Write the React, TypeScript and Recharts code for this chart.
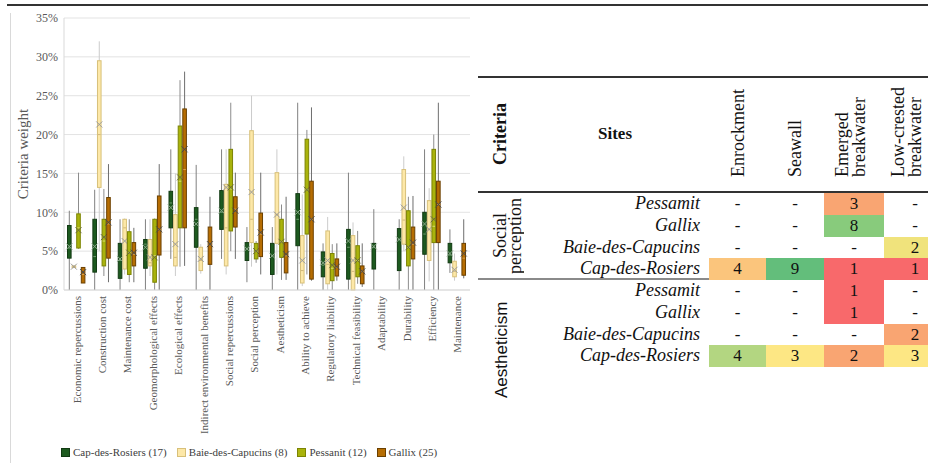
import React from 'react';
import { ComposedChart, Bar, XAxis, YAxis, CartesianGrid, Legend, Label } from 'recharts';

// box values per criterion: [min, q1, median, q3, max, mean] in %
type Box = [number, number, number, number, number, number] | null;

const categories = [
  'Economic repercussions', 'Construction cost', 'Maintenance cost', 'Geomorphological effects',
  'Ecological effects', 'Indirect environmental benefits', 'Social repercussions', 'Social perception',
  'Aestheticism', 'Ability to achieve', 'Regulatory liability', 'Technical feasibility',
  'Adaptability', 'Durability', 'Efficiency', 'Maintenance',
];

const capDesRosiers: Box[] = [
  [0, 4.1, 5.4, 8.3, 10.2, 5.6], [0, 2.3, 4.3, 9.1, 12.9, 5.6], [0, 1.5, 3.8, 6.0, 9.1, 4.0],
  [0, 2.8, 5.9, 6.5, 9.1, 5.5], [4, 8.0, 11.2, 12.7, 18.1, 10.6], [0, 5.5, 9.1, 10.6, 16.1, 8.5],
  [4, 7.8, 10.0, 12.8, 18.1, 10.2], [1, 3.8, 5.3, 6.1, 8.1, 5.3], [0, 2.0, 4.4, 6.0, 8.1, 4.4],
  [0, 5.7, 9.1, 12.4, 24.1, 10.0], [0, 1.7, 3.2, 4.9, 6.0, 3.5], [0, 1.4, 5.5, 7.8, 15.1, 6.3],
  [0, 2.7, 5.5, 6.0, 10.4, 5.6], [0, 2.5, 6.5, 7.9, 9.1, 6.5], [0, 4.6, 7.2, 10.0, 18.1, 8.5],
  [2.2, 3.5, 4.5, 6.0, 7.8, 4.7],
];

const baieDesCapucins: Box[] = [
  [2.8, 2.9, 3.0, 3.1, 3.2, 3.0], [5, 13.2, 20, 29.5, 32, 21.3], [2, 2.7, 8.0, 9.1, 9.2, 6.3],
  [1.8, 3.1, 3.5, 6.5, 9.1, 4.2], [1.8, 3.1, 4.2, 9.7, 15.0, 5.9], [2.1, 2.5, 3.8, 5.5, 5.9, 4.0],
  [2, 3.1, 8.0, 13.6, 18.1, 13.2], [3, 6.1, 9.1, 20.5, 25.0, 12.6], [2, 6.0, 9.7, 15.1, 18.1, 9.7],
  [0.5, 0.9, 2.5, 7.0, 12.3, 3.8], [0, 0.8, 3.3, 7.6, 9.4, 3.8], [0, 0, 2.4, 7.0, 8.7, 3.8],
  null, [5, 5.9, 9.0, 15.5, 17.2, 10.6], [1.1, 3.8, 7.8, 11.5, 13.1, 7.8],
  [1.2, 1.7, 2.4, 3.7, 4.7, 2.6],
];

const pessamit: Box[] = [
  [5.3, 5.4, 8.0, 9.8, 15.1, 7.7], [1.8, 3.1, 6.3, 9.1, 13.0, 6.8], [1.0, 2.0, 4.8, 7.5, 9.1, 4.8],
  [0, 1.0, 4.4, 9.1, 9.2, 4.2], [3, 8.0, 14.0, 21.1, 27.0, 14.5], null,
  [5, 7.6, 13.0, 18.1, 24.1, 13.2], [3.5, 4.0, 5.0, 6.0, 6.3, 5.0], [1.3, 4.2, 6.2, 9.1, 11.0, 6.2],
  [2, 7.2, 12.9, 19.4, 20.6, 12.9], [0, 1.2, 2.8, 4.7, 5.9, 3.2], [0.8, 1.7, 3.8, 5.7, 7.6, 3.8],
  null, [0, 3.1, 5.5, 10.2, 12.0, 5.5], [0, 6.1, 8.2, 18.1, 20.0, 9.1],
  null,
];

const gallix: Box[] = [
  [0.9, 0.9, 2.0, 2.9, 2.9, 2.3], [1.0, 4.1, 8.5, 11.9, 16.2, 8.7], [1.0, 3.1, 4.6, 6.1, 8.0, 4.8],
  [0, 4.5, 7.8, 12.1, 16.2, 7.8], [3.1, 8.0, 15.5, 23.3, 28.1, 18.1], [0, 3.3, 5.9, 8.1, 12.0, 5.9],
  [4.0, 8.1, 10.4, 12.0, 15.1, 10.2], [2.0, 4.3, 7.2, 9.9, 15.1, 7.4], [1.3, 2.2, 4.4, 6.1, 12.0, 4.6],
  [1.2, 1.4, 9.1, 14.0, 23.5, 9.1], [1.2, 1.8, 2.9, 4.0, 6.0, 3.0], [0.4, 0.8, 2.4, 3.1, 6.0, 2.4],
  null, [0, 4.0, 5.9, 8.1, 12.1, 6.1], [0, 6.1, 11.0, 14.0, 24.1, 11.0],
  [1.5, 1.9, 4.1, 6.0, 9.1, 4.7],
];

const yTicks = [0, 5, 10, 15, 20, 25, 30, 35];

// table on the right
const sites = ['Pessamit', 'Gallix', 'Baie-des-Capucins', 'Cap-des-Rosiers'];
const structures = [['Enrockment'], ['Seawall'], ['Emerged', 'breakwater'], ['Low-crested', 'breakwater']];
const socialPerception = [['-', '-', '3', '-'], ['-', '-', '8', '-'], ['-', '-', '-', '2'], ['4', '9', '1', '1']];
const aestheticism = [['-', '-', '1', '-'], ['-', '-', '1', '-'], ['-', '-', '-', '2'], ['4', '3', '2', '3']];
const socialColors = [
  [null, null, '#f9a572', null], [null, null, '#88cb7c', null],
  [null, null, null, '#f0e37c'], ['#fbc57c', '#63be7b', '#f8696b', '#f8696b'],
];
const aestheticColors = [
  [null, null, '#f8696b', null], [null, null, '#f8696b', null],
  [null, null, null, '#f9a572'], ['#b3d681', '#fde784', '#f9a572', '#fde784'],
];

const series = [
  { key: 'cap', name: 'Cap-des-Rosiers (17)', fill: '#1d5a1f', stroke: '#123a13', whisker: '#808080', median: '#6f9a6f', mean: '#8aa88a' },
  { key: 'baie', name: 'Baie-des-Capucins (8)', fill: '#fde8a8', stroke: '#d8c07a', whisker: '#cccccc', median: '#d0b77a', mean: '#9a9a9a' },
  { key: 'pess', name: 'Pessanit (12)', fill: '#a9b30c', stroke: '#7c8404', whisker: '#8c8c8c', median: '#d6dc70', mean: '#6a6a3a' },
  { key: 'gal', name: 'Gallix (25)', fill: '#b66d02', stroke: '#6b4000', whisker: '#6e6e6e', median: '#d9a050', mean: '#4a4a4a' },
];

const data = categories.map((name, i) => ({
  name,
  cap: capDesRosiers[i],
  baie: baieDesCapucins[i],
  pess: pessamit[i],
  gal: gallix[i],
}));

const SERIF = '"Liberation Serif", "Times New Roman", serif';

const BoxShape = (props: any) => {
  const { x, y, width, height, payload, s } = props;
  const v = payload[s.key];
  if (!v) return null;
  const [mn, q1, md, q3, mx, mean] = v;
  const top = Math.min(y, y + height);
  const bot = Math.max(y, y + height);
  const span = mx - mn;
  const py = (val: number) => (span === 0 ? bot : bot - ((val - mn) / span) * (bot - top));
  const cx = x + width / 2;
  const bTop = py(q3);
  const bBot = py(q1);
  const my = py(mean);
  const r = 3;
  return (
    <g>
      <line x1={cx} x2={cx} y1={top} y2={bot} stroke={s.whisker} strokeWidth={1} />
      <rect x={x + 0.5} y={bTop} width={width - 1} height={Math.max(bBot - bTop, 0.5)} fill={s.fill} stroke={s.stroke} strokeWidth={1} />
      <line x1={x + 1} x2={x + width - 1} y1={py(md)} y2={py(md)} stroke={s.median} strokeWidth={1} />
      <path d={`M${cx - r},${my - r}L${cx + r},${my + r}M${cx - r},${my + r}L${cx + r},${my - r}`} stroke={s.mean} strokeWidth={1} fill="none" />
    </g>
  );
};

const CategoryTick = (props: any) => {
  const { x, y, payload } = props;
  return (
    <text x={x} y={y} transform={`rotate(-90 ${x} ${y})`} textAnchor="end" dominantBaseline="central"
      fontSize={11} fill="#595959" fontFamily={SERIF}>
      {payload.value}
    </text>
  );
};

const LegendContent = () => (
  <div style={{ display: 'flex', alignItems: 'center', height: 16, fontFamily: SERIF, fontSize: 11, color: '#404040', whiteSpace: 'nowrap' }}>
    {series.map((s) => (
      <div key={s.key} style={{ display: 'flex', alignItems: 'center', marginRight: 10 }}>
        <span style={{ display: 'inline-block', width: 7, height: 7, background: s.fill, border: `1px solid ${s.stroke}`, marginRight: 3 }} />
        <span>{s.name}</span>
      </div>
    ))}
  </div>
);

const Vertical = ({ left, top, height, lines, lineHeight, align, style }: any) => (
  <div style={{
    position: 'absolute', left, top, height, writingMode: 'vertical-rl', transform: 'rotate(180deg)',
    textAlign: align, whiteSpace: 'nowrap', lineHeight: `${lineHeight}px`, ...style,
  }}>
    {lines.map((l: string) => <div key={l}>{l}</div>)}
  </div>
);

const colLeft = [709, 766, 824, 884];
const colWidth = [57, 58, 60, 62];
const headerShift = [0, 0, -2, -7];
const rowH = 21.8;

const TableGroup = ({ top, values, colors }: any) => (
  <>
    {sites.map((site, r) => (
      <React.Fragment key={site}>
        <div style={{
          position: 'absolute', left: 520, width: 180, top: top + r * rowH, height: rowH, lineHeight: `${rowH}px`,
          textAlign: 'right', fontStyle: 'italic', fontSize: 18, fontFamily: SERIF, color: '#111',
        }}>{site}</div>
        {values[r].map((val: string, c: number) => (
          <div key={c} style={{
            position: 'absolute', left: colLeft[c], width: colWidth[c], top: top + r * rowH, height: rowH,
            lineHeight: `${rowH}px`, textAlign: 'center', background: colors[r][c] || 'transparent',
            fontSize: 17, fontFamily: SERIF, color: '#111',
          }}>{val}</div>
        ))}
      </React.Fragment>
    ))}
  </>
);

export default function App() {
  return (
    <div style={{ position: 'relative', width: 928, height: 463, overflow: 'hidden', background: '#fff' }}>
      <style>{'body{margin:0}'}</style>
      <div style={{ position: 'absolute', left: 7, right: 0, top: 4, height: 2, background: '#333' }} />
      <div style={{ position: 'absolute', left: 10, top: 13, bottom: 0, width: 1, background: '#d9d9d9' }} />

      <div style={{ position: 'absolute', left: 0, top: 0 }}>
        <ComposedChart width={475} height={463} data={data} barGap={0}
          margin={{ top: 18, right: 5, left: 10, bottom: 3 }}>
          <CartesianGrid vertical={false} stroke="#e3e3e3" />
          <XAxis dataKey="name" type="category" interval={0} tick={<CategoryTick />} tickLine={false}
            tickSize={4} tickMargin={2} height={154} axisLine={{ stroke: '#d9d9d9' }} />
          <YAxis width={54} domain={[0, 35]} ticks={yTicks} tickFormatter={(v) => `${v}%`} tickLine={false}
            tickSize={4} tickMargin={2} axisLine={{ stroke: '#d9d9d9' }}
            tick={{ fontSize: 12, fill: '#595959', fontFamily: SERIF }}>
            <Label content={(p: any) => {
              const vb = p.viewBox;
              const lx = vb.x + 13;
              const ly = vb.y + vb.height / 2;
              return (
                <text x={lx} y={ly} transform={`rotate(-90 ${lx} ${ly})`} textAnchor="middle" dominantBaseline="central"
                  fontSize={15} fill="#595959" fontFamily={SERIF}>Criteria weight</text>
              );
            }} />
          </YAxis>
          <Legend verticalAlign="bottom" wrapperStyle={{ left: 61, bottom: 3, width: 414 }} content={() => <LegendContent />} />
          {series.map((s) => (
            <Bar key={s.key} name={s.name} dataKey={(d: any) => (d[s.key] ? [d[s.key][0], d[s.key][4]] : null)}
              fill={s.fill} barSize={4.6} isAnimationActive={false}
              shape={(p: any) => <BoxShape {...p} s={s} />} />
          ))}
        </ComposedChart>
      </div>

      {/* table */}
      <div style={{ position: 'absolute', left: 478, right: 0, top: 76, height: 1.5, background: '#333' }} />
      <div style={{ position: 'absolute', left: 478, right: 0, top: 191, height: 2, background: '#333' }} />
      <div style={{ position: 'absolute', left: 478, right: 0, top: 278, height: 1.5, background: '#8a8a8a' }} />

      <Vertical left={490} top={77} height={115} lines={['Criteria']} lineHeight={20} align="center"
        style={{ fontFamily: SERIF, fontWeight: 'bold', fontSize: 18, color: '#111' }} />
      <div style={{ position: 'absolute', left: 585, width: 60, top: 124, textAlign: 'center', fontFamily: SERIF, fontWeight: 'bold', fontSize: 17, color: '#111' }}>Sites</div>
      {structures.map((lines, c) => (
        <Vertical key={c} left={colLeft[c] + colWidth[c] / 2 - (lines.length * 18) / 2 + headerShift[c]} top={87} height={90}
          lines={lines} lineHeight={lines.length > 1 ? 17 : 18} align="start" style={{ fontFamily: SERIF, fontSize: 18, color: '#111' }} />
      ))}

      <div style={{ position: 'absolute', left: 478, top: 193, width: 46, height: 86, overflow: 'hidden' }}>
        <Vertical left={15} top={0} height={86} lines={['Social', 'perception']} lineHeight={15} align="center"
          style={{ fontFamily: SERIF, fontSize: 18, color: '#111' }} />
      </div>
      <Vertical left={492} top={280} height={140} lines={['Aestheticism']} lineHeight={20} align="center"
        style={{ fontFamily: '"Liberation Sans", Arial, sans-serif', fontSize: 17, color: '#111' }} />

      <TableGroup top={193} values={socialPerception} colors={socialColors} />
      <TableGroup top={280} values={aestheticism} colors={aestheticColors} />
    </div>
  );
}
